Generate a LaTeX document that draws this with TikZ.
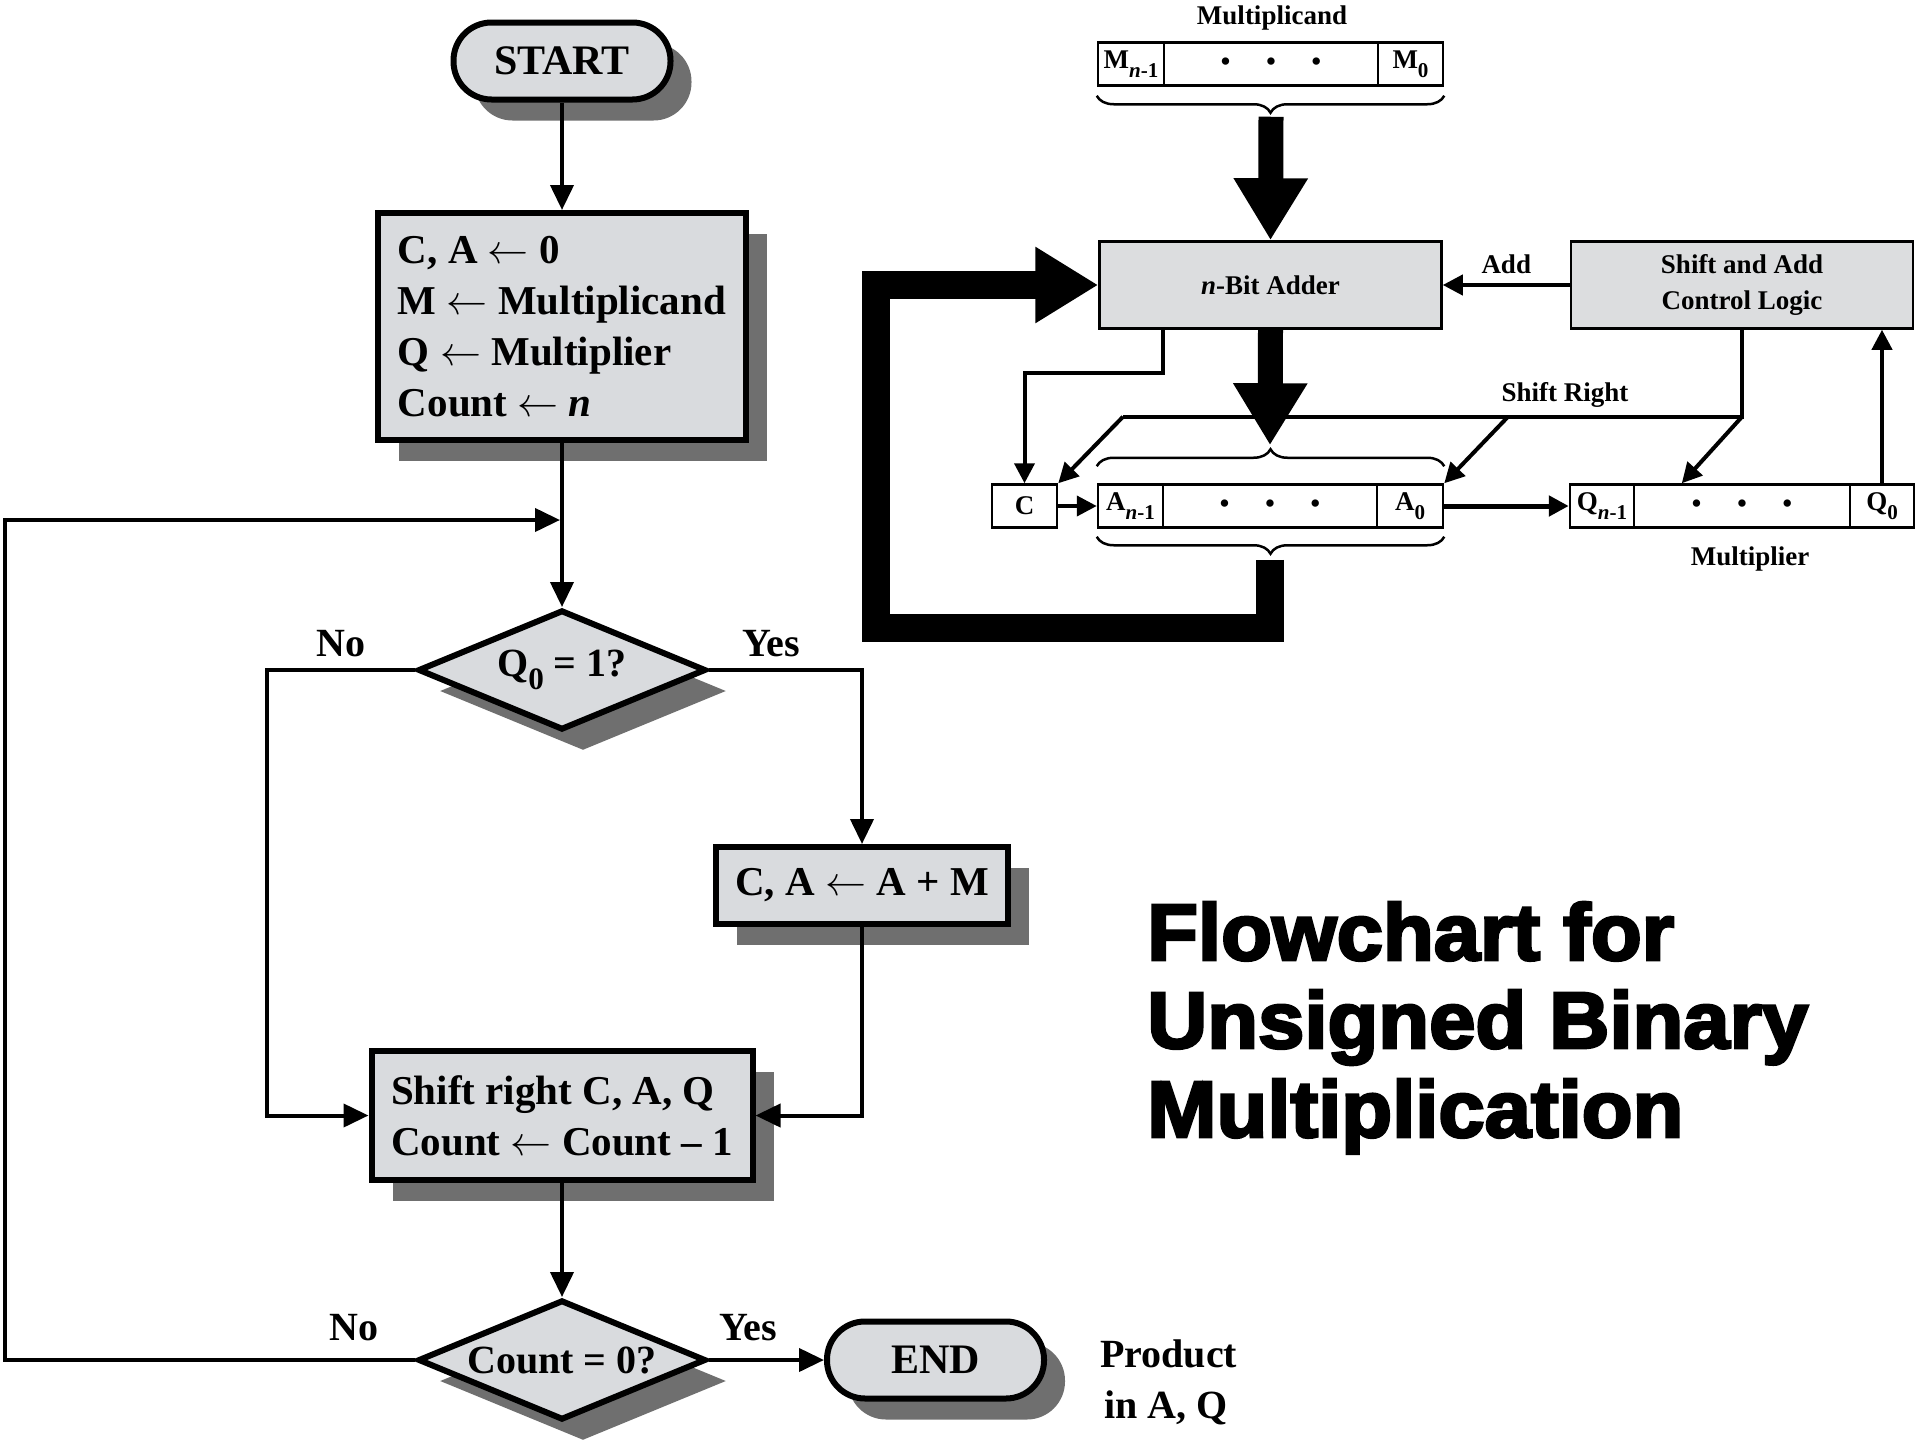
\RequirePackage{fix-cm}
\documentclass[tikz,border=0pt]{standalone}
\usepackage{fontspec}
\usepackage{graphicx}
\setmainfont{Liberation Serif}
\newfontfamily\titlefont{Liberation Sans}[FakeStretch=1.04,FakeBold=3.5]
\usetikzlibrary{arrows.meta,shapes.geometric,shadows,decorations.pathreplacing,calc}

\definecolor{flowfill}{HTML}{D9DBDE}
\definecolor{shadowgray}{HTML}{6F6F6F}
\definecolor{blockfill}{HTML}{DCDDDF}

% lowered, smaller subscript as used in the register labels
\newcommand{\lowsub}[1]{\raisebox{-0.32em}{\scalebox{0.78}{#1}}}
% assignment arrow
\newcommand{\getsarrow}{\ensuremath{\leftarrow}}

\tikzset{
  castshadow/.style={drop shadow={shadow xshift=21pt, shadow yshift=-21pt, fill=shadowgray, opacity=1}},
  procbox/.style={rectangle, draw, line width=6pt, fill=flowfill, castshadow, inner sep=0pt,
    align=left, font=\fontsize{41}{51}\selectfont\bfseries},
  termbox/.style={procbox, rounded corners=38pt, minimum width=217pt, minimum height=77pt,
    align=center, font=\fontsize{42}{50}\selectfont\bfseries},
  decision/.style={diamond, aspect=2.3, draw, line width=6pt, fill=flowfill, castshadow, inner sep=0pt,
    minimum width=288pt, minimum height=120pt, font=\fontsize{40}{48}\selectfont\bfseries},
  flowarrow/.style={line width=4pt, line join=miter, -{Triangle[length=25pt,width=23pt]}},
  flowlabel/.style={font=\fontsize{40}{46}\selectfont\bfseries, inner sep=0pt},
  regcell/.style={rectangle, draw, line width=2.5pt, fill=white, inner sep=0pt, minimum height=43pt,
    font=\fontsize{27}{30}\selectfont\bfseries},
  blockunit/.style={rectangle, draw, line width=2.5pt, fill=blockfill, inner sep=0pt, minimum width=342pt,
    minimum height=87pt, align=center, font=\fontsize{27}{36}\selectfont\bfseries},
  wire/.style={line width=4pt, line join=miter},
  wirearrow/.style={wire, -{Triangle[length=20pt,width=20pt]}},
  busarrow/.style={line width=25pt, -{Triangle[length=62pt,width=70pt]}},
  feedbus/.style={line width=28pt, line join=miter, -{Triangle[length=63pt,width=72pt]}},
  bracemark/.style={decorate, decoration={brace, amplitude=17pt}, line width=2.5pt},
  blabel/.style={font=\fontsize{27}{30}\selectfont\bfseries, inner sep=0pt},
  titleline/.style={anchor=base west, inner sep=0pt, font=\titlefont\bfseries\fontsize{80}{90}\selectfont},
}

\begin{document}
\begin{tikzpicture}[x=1pt, y=-1pt]
  \fill[white] (0,0) rectangle (1920,1440);
  \useasboundingbox (0,0) rectangle (1920,1440);

  % ---------------- flowchart ----------------
  \node[termbox] (start) at (562,61) {START};
  \node[procbox, minimum width=368pt, minimum height=227pt] (init) at (562,326.5)
    {C, A \getsarrow{} 0\\M \getsarrow{} Multiplicand\\Q \getsarrow{} Multiplier\\Count \getsarrow{} \textit{n}};
  \node[decision] (dq) at (562,670) {Q\lowsub{0} = 1?};
  \node[procbox, minimum width=292pt, minimum height=77pt, align=center] (add) at (862,885.5)
    {C, A \getsarrow{} A + M};
  \node[procbox, minimum width=381pt, minimum height=129pt] (shift) at (562,1115.5)
    {Shift right C, A, Q\\Count \getsarrow{} Count – 1};
  \node[decision] (dc) at (562,1360) {Count = 0?};
  \node[termbox] (end) at (935.5,1360) {END};

  \node[flowlabel, anchor=base west] (prod1) at (1100,1367) {Product};
  \node[flowlabel, anchor=base west] (prod2) at (1104,1418) {in A, Q};

  \node[flowlabel] (noq) at ($(dq.west)+(-74,-26)$) {No};
  \node[flowlabel] (yesq) at ($(dq.east)+(62,-26)$) {Yes};
  \node[flowlabel] (noc) at ($(dc.west)+(-61,-32)$) {No};
  \node[flowlabel] (yesc) at ($(dc.east)+(39,-32)$) {Yes};

  \coordinate (leftrail) at (5,520);
  \coordinate (loopin) at (init.south |- leftrail);

  \draw[flowarrow] (start.south) -- (init.north);
  \draw[flowarrow] (init.south) -- (dq.north);
  \draw[flowarrow] (dq.east) -| (add.north);
  \draw[flowarrow] (dq.west) -| ([xshift=-102pt]shift.west) -- (shift.west);
  \draw[flowarrow] (add.south) |- (shift.east);
  \draw[flowarrow] (shift.south) -- (dc.north);
  \draw[flowarrow] (dc.east) -- (end.west);
  \draw[flowarrow, shorten >=2pt] (dc.west) -| (leftrail) -- (loopin);

  % ---------------- hardware block diagram ----------------
  \node[blabel] (mcandlabel) at (1272,18) {Multiplicand};
  \node[regcell, minimum width=66pt] (mhi) at (1131,64) {M\lowsub{\textit{n}-1}};
  \node[regcell, minimum width=214pt] (mdots) at (1271,64) {•\hspace{36pt}•\hspace{36pt}•};
  \node[regcell, minimum width=65pt] (mlo) at (1410.5,64) {M\lowsub{0}};
  \draw[bracemark] ([yshift=-9pt]mlo.south east) -- ([yshift=-9pt]mhi.south west);
  \coordinate (mtip) at ($(mdots.south)+(0,30)$);

  \node[blockunit] (adder) at (1270.5,285) {\textit{n}-Bit Adder};
  \node[blockunit] (ctrl) at (1742,285) {Shift and Add\\Control Logic};

  \draw[busarrow] (mtip) -- (adder.north);
  \draw[wirearrow] (ctrl.west) -- node[blabel, above=9pt] (addlabel) {Add} (adder.east);

  \node[regcell, minimum width=65pt] (ahi) at (1130.5,506) {A\lowsub{\textit{n}-1}};
  \node[regcell, minimum width=214pt] (adots) at (1270,506) {•\hspace{36pt}•\hspace{36pt}•};
  \node[regcell, minimum width=66pt] (alo) at (1410,506) {A\lowsub{0}};
  \draw[bracemark] ([yshift=17pt]ahi.north west) -- ([yshift=17pt]alo.north east);
  \draw[bracemark] ([yshift=-8pt]alo.south east) -- ([yshift=-8pt]ahi.south west);
  \coordinate (atop) at ($(adots.north)+(0,-38)$);
  \coordinate (abot) at ($(adots.south)+(0,31)$);

  \node[regcell, minimum width=65pt] (cbox) at (1024.5,506) {C};

  \node[regcell, minimum width=64pt] (qhi) at (1602,506) {Q\lowsub{\textit{n}-1}};
  \node[regcell, minimum width=216pt] (qdots) at (1742,506) {•\hspace{36pt}•\hspace{36pt}•};
  \node[regcell, minimum width=64pt] (q0) at (1882,506) {Q\lowsub{0}};
  \node[blabel] (mplierlabel) at ($(qdots.south)+(8,30)$) {Multiplier};

  \draw[busarrow] (adder.south) -- (atop);
  \coordinate (fbcorner) at (876,628);
  \draw[feedbus] (abot) |- (fbcorner) |- (adder.west);

  \draw[wirearrow] (cbox.east) -- (ahi.west);
  \draw[wirearrow] ([xshift=-108pt]adder.south) -- ++(0,43) -| (cbox.north);
  \draw[wirearrow, line width=5pt] (alo.east) -- (qhi.west);
  \draw[wirearrow] (q0.north) -- (q0.north |- ctrl.south);

  \coordinate (srR) at ($(ctrl.south)+(0,87)$);
  \coordinate (srL) at ($(srR)+(-619,0)$);
  \coordinate (srM) at ($(srR)+(-234,0)$);
  \draw[wire] (ctrl.south) -- (srR) -- (srL);
  \draw[wirearrow] (srR) -- ($(qdots.north west)+(49,0)$);
  \draw[wirearrow] (srM) -- (alo.north east);
  \draw[wirearrow] (srL) -- (cbox.north east);
  \node[blabel] (srlabel) at ($(srM)+(57,-22)$) {Shift Right};

  % ---------------- title ----------------
  \node[titleline] (title1) at (1147,960) {Flowchart for};
  \node[titleline] (title2) at (1147,1048) {Unsigned Binary};
  \node[titleline] (title3) at (1147,1137) {Multiplication};
\end{tikzpicture}
\end{document}
